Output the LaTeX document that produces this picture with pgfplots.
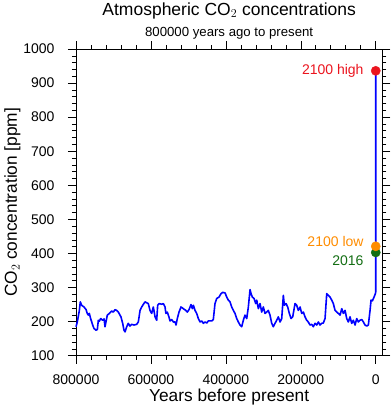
\documentclass[border=0pt]{standalone}
\usepackage{fontspec}
\setmainfont{Liberation Sans}
\usepackage{pgfplots}
\pgfplotsset{compat=1.18}
\usepackage{pgfplotstable}
\definecolor{cred}{RGB}{235,20,30}
\definecolor{corange}{RGB}{255,140,0}
\definecolor{cgreen}{RGB}{20,110,20}
\pgfplotstableread{
age ppm
800000 185
796500 199
791000 233
788500 258
785000 248
778600 243
773000 235
770000 224
767000 219
764500 224
761000 209
758000 199
755500 190
752000 180
746600 175
743000 177
740400 204
737800 201
734000 209
728800 204
725000 208
722600 185
720000 199
716400 219
711000 224
704700 231
700400 228
696000 235
691400 233
687000 228
682500 219
680000 214
675400 195
672000 175
669000 170
664700 185
660400 195
656000 187
651400 192
645000 190
638000 192
633700 199
629000 233
624600 243
620000 251
615800 258
611000 255
607000 253
602500 233
598000 224
593600 243
589000 214
584600 204
582000 248
578400 253
571000 251
567000 253
562400 243
560000 224
556400 228
552000 214
549000 202
544600 206
540000 199
535700 199
533000 190
529600 209
525000 228
519700 243
513500 238
507000 233
502900 228
498400 235
493000 250
489500 238
486800 248
482300 233
477800 224
473500 209
469000 199
464500 202
460000 195
455600 199
451000 196
446800 202
437800 202
433500 206
429000 253
424400 268
418300 272
413000 282
408400 286
402000 284
397700 272
393400 263
389000 258
384400 243
380000 233
375600 224
371000 209
366700 199
362200 190
357700 185
353400 204
349000 219
344300 209
340000 243
335500 294
332800 282
329300 272
324800 268
320300 253
317600 263
313300 238
308800 253
304300 228
300000 243
295500 224
291000 228
286700 233
282200 219
277600 195
273300 185
268800 195
264300 204
260000 214
255400 199
250900 209
246600 277
244000 248
239400 253
235000 243
230600 224
226000 209
221600 214
215400 253
211000 248
206600 233
202000 243
197500 224
193200 228
188700 214
184200 204
180000 199
175400 190
170900 192
166500 185
162000 195
157500 190
153200 199
148700 190
144100 195
139900 196
135300 209
130800 282
126500 277
122000 272
117400 263
113200 253
108600 233
104100 228
99800 224
95200 219
90700 238
86400 224
81900 233
77400 209
73100 199
68600 214
64100 195
59700 204
55200 190
50700 209
46400 199
41900 204
37300 206
33000 199
28500 190
24000 187
19700 190
15200 233
12500 263
9000 261
4500 272
1000 282
0 287
0 936
}\co
\begin{document}
\begin{tikzpicture}
\begin{axis}[
  at={(0,0)}, anchor=south west,
  scale only axis,
  width=306.3pt, height=306.7pt,
  x dir=reverse,
  xmin=-17500, xmax=800000,
  ymin=100, ymax=1000,
  xtick={0,200000,400000,600000,800000},
  ytick={100,200,...,1000},
  minor x tick num=4,
  minor y tick num=4,
  tick align=outside,
  major tick length=8pt,
  minor tick length=4pt,
  tick style={black, line width=0.6pt},
  axis line style={line width=0.8pt},
  scaled x ticks=false,
  scaled y ticks=false,
  /pgf/number format/fixed,
  /pgf/number format/precision=0,
  /pgf/number format/1000 sep={},
  /pgf/number format/assume math mode=true,
  tick label style={font=\fontsize{14}{16}\selectfont},
  xticklabel style={yshift=-7pt},
  yticklabel style={xshift=-10pt},
  clip=false,
]
\addplot[blue, line width=1.6pt, line join=round] table[x=age, y=ppm] {\co};
\addplot[only marks, mark=*, mark size=4.6pt, cgreen] coordinates {(0,403)};
\addplot[only marks, mark=*, mark size=4.6pt, corange] coordinates {(0,421)};
\addplot[only marks, mark=*, mark size=4.6pt, cred] coordinates {(0,936)};
\node[anchor=east, text=cred, font=\fontsize{14}{16}\selectfont, inner sep=0pt] at (axis cs:0,936) [xshift=-12pt] {2100 high};
\node[anchor=east, text=corange, font=\fontsize{14}{16}\selectfont, inner sep=0pt] at (axis cs:0,421) [xshift=-12pt, yshift=5pt] {2100 low};
\node[anchor=east, text=cgreen, font=\fontsize{14}{16}\selectfont, inner sep=0pt] at (axis cs:0,403) [xshift=-12pt, yshift=-8pt] {2016};
\end{axis}
\node[anchor=base, font=\fontsize{17.5}{20}\selectfont, inner sep=0pt] at ([yshift=34pt]current axis.north) {Atmospheric CO$_2$ concentrations};
\node[anchor=base, font=\fontsize{13.2}{15}\selectfont, inner sep=0pt] at ([yshift=13pt]current axis.north) {800000 years ago to present};
\node[anchor=base, font=\fontsize{17.3}{20}\selectfont, inner sep=0pt] at ([yshift=-46pt]current axis.south) {Years before present};
\node[anchor=base, rotate=90, font=\fontsize{17.3}{20}\selectfont, inner sep=0pt] at ([xshift=-59pt]current axis.west) {CO$_2$ concentration [ppm]};
\pgfresetboundingbox
\path[use as bounding box] (-76pt,-57.3pt) rectangle (315pt,355.7pt);
\end{tikzpicture}
\end{document}
